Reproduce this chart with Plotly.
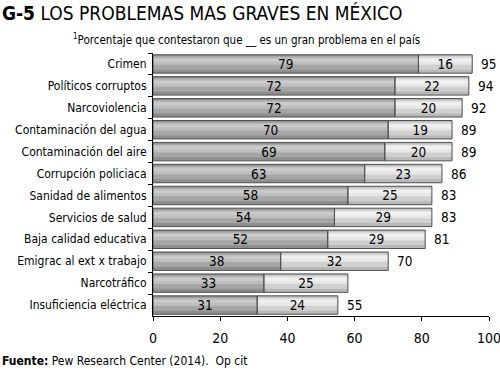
import plotly.graph_objects as go

categories = ["Crimen", "Políticos corruptos", "Narcoviolencia", "Contaminación del agua",
              "Contaminación del aire", "Corrupción policiaca", "Sanidad de alimentos",
              "Servicios de salud", "Baja calidad educativa", "Emigrac al ext x trabajo",
              "Narcotráfico", "Insuficiencia eléctrica"]
muy_grave = [79, 72, 72, 70, 69, 63, 58, 54, 52, 38, 33, 31]
grave = [16, 22, 20, 19, 20, 23, 25, 29, 29, 32, 25, 24]
total_labels = ["95", "94", "92", "89", "89", "86", "83", "83", "81", "70", "", "55"]
x_ticks = [0, 20, 40, 60, 80, 100]

FONT = "DejaVu Sans Condensed, Liberation Sans Narrow, sans-serif"
L, R, T, B = 153, 11, 53, 54.5
PW, PH = 500 - L - R, 371 - T - B
BW = 0.84  # full bar thickness (fraction of a row)

fig = go.Figure()

# shading layers: (width, offset, colour for dark segment, colour for light segment)
layers = [
    (BW, -BW / 2, "#8e8e8e", "#b9b9b9"),
    (0.62, -0.36, "#a6a6a6", "#d0d0d0"),
    (0.34, -0.30, "#bebebe", "#e6e6e6"),
    (0.14, -0.24, "#cacaca", "#f0f0f0"),
]
for w, off, c_dark, c_light in layers:
    fig.add_trace(go.Bar(y=categories, x=muy_grave, orientation="h", width=w, offset=off,
                         marker=dict(color=c_dark, line=dict(width=0)), hoverinfo="skip"))
    fig.add_trace(go.Bar(y=categories, x=grave, base=muy_grave, orientation="h", width=w,
                         offset=off, marker=dict(color=c_light, line=dict(width=0)),
                         hoverinfo="skip"))

# outline + value labels
fig.add_trace(go.Bar(
    y=categories, x=muy_grave, orientation="h", width=BW, offset=-BW / 2,
    marker=dict(color="rgba(0,0,0,0)", line=dict(color="#505050", width=1)),
    text=[str(v) for v in muy_grave], textposition="inside", insidetextanchor="middle",
    textfont=dict(family=FONT, size=13.5, color="black"), textangle=0, hoverinfo="skip",
))
fig.add_trace(go.Bar(
    y=categories, x=grave, base=muy_grave, orientation="h", width=BW, offset=-BW / 2,
    marker=dict(color="rgba(0,0,0,0)", line=dict(color="#505050", width=1)),
    text=[str(v) for v in grave], textposition="inside", insidetextanchor="middle",
    textfont=dict(family=FONT, size=13.5, color="black"), textangle=0, hoverinfo="skip",
))

totals = [a + b for a, b in zip(muy_grave, grave)]
for cat, tot, lab in zip(categories, totals, total_labels):
    if lab:
        fig.add_annotation(x=tot, y=cat, text=lab, showarrow=False, xanchor="left",
                           xshift=7, font=dict(family=FONT, size=13.5, color="black"))

fig.add_annotation(xref="paper", yref="paper", x=-L / PW, y=1 + (T - 13) / PH, xanchor="left",
                   yanchor="middle", showarrow=False,
                   text="<b>G-5</b> LOS PROBLEMAS MAS GRAVES EN MÉXICO",
                   font=dict(family=FONT, size=19, color="black"))
fig.add_annotation(xref="paper", yref="paper", x=(246.5 - L) / PW, y=1 + (T - 39) / PH,
                   xanchor="center", yanchor="middle", showarrow=False,
                   text="<sup>1</sup>Porcentaje que contestaron que __ es un gran problema en el país",
                   font=dict(family=FONT, size=11.5, color="black"))
fig.add_annotation(xref="paper", yref="paper", x=-L / PW, y=-(362 - (T + PH)) / PH,
                   xanchor="left", yanchor="middle", showarrow=False,
                   text="<b>Fuente:</b> Pew Research Center (2014).  Op cit",
                   font=dict(family=FONT, size=12, color="black"))

fig.update_layout(
    barmode="overlay", showlegend=False,
    width=500, height=371,
    margin=dict(l=L, r=R, t=T, b=B, autoexpand=False),
    paper_bgcolor="white", plot_bgcolor="white",
    font=dict(family=FONT, size=13, color="black"),
    uniformtext=dict(minsize=13.5, mode="show"),
)
fig.update_xaxes(range=[0, 100], tickvals=x_ticks, showgrid=False, zeroline=False,
                 showline=True, linecolor="black", linewidth=1, ticks="outside",
                 ticklen=4, tickcolor="black", tickfont=dict(family=FONT, size=14),
                 ticklabelstandoff=5, ticklabeloverflow="allow", automargin=False)
fig.update_yaxes(autorange="reversed", showgrid=False, showline=True, linecolor="black",
                 linewidth=1, ticks="outside", ticklen=4, tickcolor="black",
                 tickson="boundaries", tickfont=dict(family=FONT, size=12),
                 ticklabelstandoff=3, automargin=False)

fig.write_html("out.html", config={"displayModeBar": False, "staticPlot": True},
               post_script="document.body.style.margin='0';document.body.style.overflow='hidden';")
